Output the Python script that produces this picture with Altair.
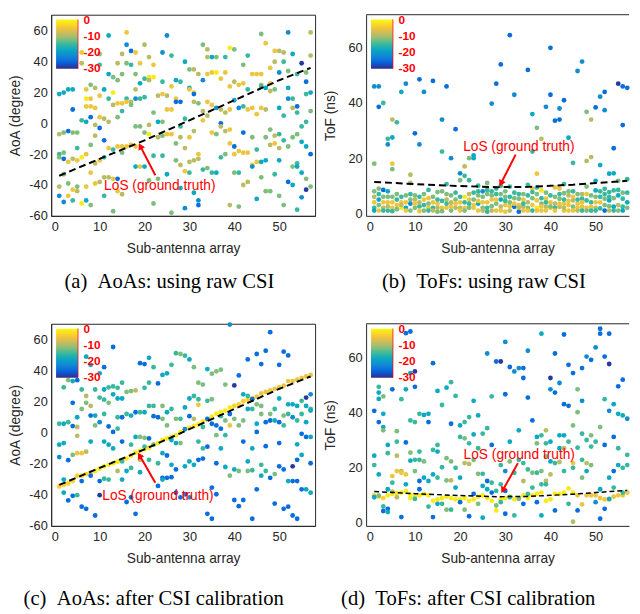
import altair as alt
import pandas as pd

# colour codes (received power, dB)
Y, YO, O, OL, G, T, C, CB, B, DB = -1, -3, -5, -9, -12, -15, -18.5, -22, -25.5, -29.5

PARULA = ['#352a87', '#0363e1', '#1485d4', '#06a7c6', '#38b99e',
          '#92bf73', '#d9ba56', '#fcce2e', '#f9fb0e']

x_ticks = [0, 10, 20, 30, 40, 50]
aoa_ticks = [-60, -40, -20, 0, 20, 40, 60]
tof_ticks = [0, 20, 40, 60]
cbar_ticks = [0, -10, -20, -30]
cbar_limits = [-30.5, 0.5]

# ---------------- (a) AoAs raw ----------------
aoa_raw = [
    (1,19,C),(1,-7,OL),(1,-20,T),(1,-22,G),(1,-41,OL),(1,-47,CB),
    (2,20,C),(2,-6,G),(2,-19,G),(2,-23,B),(2,-33,G),(2,-51,CB),
    (3,22,C),(3,-5,B),(3,-25,O),(3,-39,G),(3,-47,O),
    (4,22,C),(4,9,B),(4,-6,G),(4,-23,OL),(4,-43,O),(4,-50,T),
    (5,-6,G),(5,-16,T),(5,-24,O),(5,-41,G),(5,-44,OL),
    (6,46,O),(6,39,OL),(6,2,T),(6,-22,Y),(6,-52,Y),
    (7,22,O),(7,16,Y),(7,11,O),(7,1,C),(7,-20,O),(7,-41,O),(7,-50,C),
    (8,25,G),(8,16,O),(8,11,O),(8,4,B),(8,-14,G),(8,-32,O),(8,-53,G),
    (9,23,OL),(9,10,O),(9,-1,OL),(9,-8,OL),(9,-26,OL),(9,-39,O),
    (10,45,G),(10,38,T),(10,18,O),(10,4,O),(10,-3,B),(10,-24,O),(10,-38,OL),
    (11,22,C),(11,3,OL),(11,-11,B),(11,-22,T),(11,-35,OL),(11,-47,T),
    (12,57,C),(12,32,C),(12,16,T),(12,1,OL),(12,-16,O),(12,-35,OL),
    (13,30,G),(13,20,Y),(13,12,OL),(13,-17,T),(13,-36,O),(13,-57,G),
    (14,39,OL),(14,28,G),(14,13,O),(14,4,G),(14,-15,O),(14,-36,B),(14,-44,O),
    (15,45,OL),(15,32,G),(15,13,O),(15,8,T),(15,-15,O),(15,-19,G),(15,-46,OL),
    (16,59,O),(16,51,CB),(16,39,G),(16,16,T),(16,14,O),(16,-15,O),
    (17,47,B),(17,38,T),(17,14,OL),(17,12,G),(17,-14,O),
    (18,46,O),(18,32,G),(18,22,OL),(18,16,CB),(18,-2,G),(18,-15,O),(18,-28,C),
    (19,39,O),(19,26,C),(19,16,T),(19,-2,G),(19,-28,O),
    (20,51,OL),(20,29,T),(20,17,T),(20,-6,G),(20,-28,C),
    (21,43,OL),(21,30,Y),(21,28,OL),(21,-1,OL),(21,-7,Y),(21,-37,G),
    (22,38,O),(22,30,Y),(22,7,G),(22,-21,T),(22,-52,G),
    (23,18,OL),(23,1,C),(23,-9,OL),(23,-36,G),
    (24,46,CB),(24,27,T),(24,19,O),(24,1,G),(24,-8,G),(24,-21,T),
    (25,57,CB),(25,18,OL),(25,9,O),(25,-7,O),(25,-33,C),
    (26,44,T),(26,24,O),(26,9,O),(26,-7,O),(26,-58,G),
    (27,28,C),(27,16,O),(27,14,B),(27,-13,G),(27,-24,G),
    (28,27,T),(28,14,B),(28,-2,T),(28,-9,OL),(28,-27,OL),(28,-42,C),
    (29,40,C),(29,3,T),(29,-16,OL),(29,-31,O),(29,-55,CB),
    (30,35,G),(30,23,C),(30,22,O),(30,-9,O),(30,-25,OL),(30,-32,T),
    (31,35,OL),(31,20,O),(31,19,B),(31,14,OL),(31,-5,OL),(31,-24,OL),(31,-45,C),
    (32,32,OL),(32,13,G),(32,-20,O),(32,-23,OL),(32,-50,CB),(32,-53,B),
    (33,51,G),(33,28,CB),(33,8,OL),(33,2,O),(33,-30,T),
    (34,48,OL),(34,43,OL),(34,32,O),(34,14,O),(34,5,OL),(34,-29,G),
    (35,43,C),(35,33,O),(35,12,O),(35,-6,O),(35,-32,T),
    (36,43,G),(36,33,Y),(36,10,CB),(36,-7,G),(36,-32,C),
    (37,29,O),(37,9,OL),(37,0,B),(37,-2,OL),(37,-22,T),
    (38,43,T),(38,33,O),(38,7,OL),(38,-5,OL),(38,-20,G),
    (39,49,Y),(39,24,O),(39,9,O),(39,-4,O),(39,-13,O),(39,-53,OL),
    (40,48,G),(40,27,OL),(40,15,C),(40,-15,B),(40,-20,O),(40,-32,G),
    (41,25,O),(41,10,CB),(41,-18,O),(41,-32,T),(41,-54,G),
    (42,38,G),(42,26,O),(42,11,T),(42,-6,B),(42,-19,O),(42,-40,OL),
    (43,44,T),(43,22,T),(43,9,O),(43,-19,O),(43,-38,OL),
    (44,32,O),(44,10,O),(44,-9,G),(44,-27,O),(44,-28,CB),
    (45,32,O),(45,6,O),(45,-17,T),(45,-25,O),(45,-49,C),
    (46,58,G),(46,32,O),(46,25,OL),(46,24,T),(46,10,O),(46,-25,C),(46,-35,G),
    (47,52,O),(47,23,C),(47,9,OL),(47,-9,G),(47,-24,C),(47,-44,G),
    (48,36,O),(48,26,O),(48,21,OL),(48,-4,G),(48,-14,OL),(48,-44,G),
    (49,47,O),(49,40,OL),(49,22,G),(49,-8,OL),(49,-13,O),(49,-33,T),
    (50,47,OL),(50,33,CB),(50,10,C),(50,-7,T),(50,-16,OL),(50,-24,C),(50,-47,G),
    (51,46,OL),(51,40,T),(51,5,T),(51,-11,T),(51,-53,G),
    (52,59,CB),(52,34,G),(52,23,C),(52,16,CB),(52,-15,G),(52,-38,B),
    (53,45,C),(53,16,T),(53,10,OL),(53,-9,G),(53,-28,G),(53,-40,C),
    (54,32,T),(54,11,B),(54,7,T),(54,-7,G),(54,-26,T),(54,-28,C),(54,-56,T),
    (55,39,DB),(55,-2,T),(55,-12,C),(55,-32,C),(55,-48,CB),
    (56,33,G),(56,27,B),(56,19,T),(56,1,T),(56,-15,C),(56,-36,G),(56,-43,DB),
    (57,59,OL),(57,44,OL),(57,20,C),(57,8,G),(57,-20,B),(57,-41,G),
]

# ---------------- (b) ToFs raw ----------------
tof_raw = [
    (1,46,CB),(1,18,G),(1,8,G),(1,2,T),(1,1,C),
    (2,46,CB),(2,38.6,B),(2,9,G),(2,5,C),(2,1,O),
    (3,40,T),(3,8.5,B),(3,4,O),(3,2,OL),
    (4,27,T),(4,25,CB),(4,8,C),(4,4,O),(4,1,T),
    (5,34,OL),(5,27.5,C),(5,18,O),(5,16,G),(5,6,G),(5,2,O),
    (6,33,T),(6,5,T),(6,3,O),
    (7,44,C),(7,4,O),(7,2,Y),
    (8,47,CB),(8,4,O),(8,2,C),
    (9,14,OL),(9,11,OL),(9,5,G),(9,3.5,CB),
    (10,29,B),(10,5,OL),(10,2,G),
    (11,48.6,B),(11,25,CB),(11,6,T),(11,2.5,T),
    (12,44,CB),(12,5,O),(12,1,G),
    (13,8.5,T),(13,3.5,G),(13,2,O),
    (14,48,B),(14,4,O),(14,2,T),
    (15,7.7,G),(15,3.5,O),(15,0.6,G),
    (16,34,CB),(16,22.4,T),(16,8,G),(16,2,O),
    (17,46,B),(17,10.6,T),(17,5,OL),(17,2,O),
    (18,20,CB),(18,6.5,G),(18,2.5,O),
    (19,30.5,B),(19,5,G),(19,2,OL),
    (20,14.5,CB),(20,12,G),(20,4,O),(20,2,OL),
    (21,17,OL),(21,13.6,T),(21,6,Y),(21,2,O),
    (22,20,G),(22,12,T),(22,5,O),(22,2,G),
    (23,21,C),(23,20,C),(23,5,G),(23,2,O),
    (24,10,T),(24,6.5,G),(24,3.5,C),(24,1,O),
    (25,8,CB),(25,4,O),(25,2,G),
    (26,11,G),(26,7,G),(26,2,T),(26,0.6,T),
    (27,39.8,CB),(27,8,T),(27,5,O),(27,2.6,G),
    (28,47,B),(28,7,T),(28,3.5,G),(28,1,O),
    (29,54,B),(29,10,T),(29,5,C),(29,2.4,OL),
    (30,6,G),(30,3,O),(30,0.6,O),
    (31,64.6,B),(31,9.7,T),(31,6,T),(31,2.6,O),
    (32,43,CB),(32,5.5,G),(32,2.4,B),
    (33,5.3,G),(33,3,O),(33,0.6,B),
    (34,5,O),(34,2.4,OL),
    (35,52,B),(35,10.3,T),(35,4,OL),(35,2,G),
    (36,36,C),(36,22.4,T),(36,9,O),(36,7.7,T),(36,3,O),
    (37,31,G),(37,14.4,O),(37,9.4,T),(37,4.7,O),(37,2,Y),
    (38,27,OL),(38,8.3,Y),(38,3.5,G),(38,1,O),
    (39,38.6,CB),(39,5.3,O),(39,2.4,OL),
    (40,60,B),(40,43,B),(40,4,O),(40,2,O),
    (41,33.6,B),(41,9.4,O),(41,3.5,OL),(41,2,T),
    (42,38,CB),(42,34,B),(42,9,O),(42,5.3,G),(42,2.4,OL),
    (43,41,B),(43,10.6,T),(43,7.3,G),(43,3.5,O),(43,1,O),
    (44,27.4,C),(44,6.5,OL),(44,3,O),(44,1,O),
    (45,18.3,T),(45,6,O),(45,4.7,OL),(45,2.4,G),
    (46,51.6,CB),(46,7,G),(46,3.5,O),(46,2,O),
    (47,55,CB),(47,7,OL),(47,5.3,T),(47,2.4,O),
    (48,36.8,G),(48,19,OL),(48,9.7,G),(48,4.7,T),(48,2,O),
    (49,34,OL),(49,20.4,OL),(49,4,T),(49,2.4,O),
    (50,38.4,B),(50,11.8,C),(50,8.3,C),(50,4,O),(50,2,OL),
    (51,42.3,CB),(51,17.5,C),(51,6,T),(51,1.8,T),
    (52,44,B),(52,37.4,CB),(52,8.9,T),(52,5.3,G),(52,1,B),
    (53,14.4,C),(53,7.7,T),(53,4.7,C),(53,2.6,G),
    (54,23.6,B),(54,14.5,C),(54,8.3,T),(54,2.4,C),
    (55,47,DB),(55,11.8,G),(55,6.5,C),(55,3,OL),
    (56,46,B),(56,32,B),(56,5.3,T),(56,2.4,T),
    (57,45.5,B),(57,12.4,T),(57,4,C),
]
tof_raw_band = [
    (1,4,O),(1,6,OL),(2,3,G),(2,7,T),(3,6,G),(3,1,T),(4,6,G),(4,2.5,OL),
    (5,4,O),(5,0.8,T),(6,7,G),(6,1.5,G),(7,6,T),(7,3,OL),(8,6.5,G),(8,1,O),
    (9,1,G),(9,7,T),(10,3.5,O),(10,6.5,G),(11,4,OL),(11,0.8,O),(12,3,T),(12,7,G),
    (13,5.5,O),(13,1,T),(14,6,G),(14,1,OL),(15,5,T),(15,2,OL),(16,4.5,T),(16,0.8,G),
    (17,7,G),(17,3.5,T),(18,4,OL),(18,1,G),(19,3.5,O),(19,7.5,T),(20,6,T),(20,1,O),
    (21,4,T),(21,1,G),(22,7,OL),(22,3.5,T),(23,7.5,T),(23,3,O),(24,4.5,O),(24,8,T),
    (25,6,G),(25,1,OL),(26,4,O),(26,8.5,T),(27,6.5,G),(27,1,OL),(28,5,O),(28,9,T),
    (29,7,G),(29,1,O),(30,4.5,T),(30,8,G),(31,4,G),(31,1,OL),(32,7.5,T),(32,3.5,O),
    (33,7,T),(33,2,OL),(34,7,G),(34,3.5,T),(34,1,O),(35,6.5,T),(35,1,O),(36,5.5,G),
    (36,1,T),(37,7,G),(37,1,O),(38,5.5,T),(38,2.5,O),(39,7.5,G),(39,4,T),(39,1,O),
    (40,6.5,T),(40,2.5,G),(41,6,G),(41,1,O),(42,7,T),(42,3.5,O),(43,5,T),(43,2,OL),
    (44,8,G),(44,4.5,O),(45,8,T),(45,1,O),(46,5,T),(46,1,OL),(47,4,O),(47,1,T),
    (48,7,O),(48,1,G),(49,6.5,G),(49,1,T),(50,6,G),(50,1,T),(51,4,O),(51,8,T),
    (52,7,T),(52,3,G),(53,6,T),(53,1,OL),(54,5.5,G),(54,1,T),(55,8.5,T),(55,1,G),
    (56,7.5,G),(56,1,C),(57,7.5,T),(57,2,G),
]

# ---------------- (c) AoAs calibrated ----------------
los_idx = list(range(1, 58))
aoa_cal_los_y = [-35,-34,-33,-31.5,-28,-28,-27,-26,-25,-23.5,-22,-21,-20,-19,-18,-17,-15,-13,
                 -12,-11,-10,-8,-7,-5,-4,-3,-2,0,2,3,4,5,7,8,10,12,13,14,16,17,18,20,21,22,
                 23,25,26,27,28,29,30,33,33,34,35,36,37]
aoa_cal_los_c = [YO]*8 + [Y]*31 + [YO]*5 + [O]*13
aoa_cal = [
    (1,5.5,T),(1,-8,C),(1,-16,CB),
    (2,29,T),(2,5.5,C),(2,-7,C),(2,-30.5,C),(2,-39,C),
    (3,33.6,G),(3,6.5,T),(3,-18,B),(3,-44,B),
    (4,33,C),(4,19,B),(4,4,B),(4,-14.6,G),(4,-41,B),
    (5,33.6,B),(5,9.7,C),(5,3.4,OL),(5,-2.3,OL),(5,-13.5,O),(5,-40.6,T),
    (6,27.6,T),(6,15,G),(6,-13.5,O),(6,-31.5,B),(6,-48,B),
    (7,48.8,C),(7,23.4,OL),(7,19,G),(7,-12.5,OL),(7,-49.4,B),
    (8,43.5,C),(8,17,OL),(8,10.8,B),(8,-6,C),(8,-28,B),
    (9,27.6,T),(9,10.8,C),(9,4.4,G),(9,-53.7,B),
    (10,38,C),(10,22.4,T),(10,6.5,CB),(10,-31.5,B),(10,-40.6,DB),
    (11,42,B),(11,27.6,C),(11,21,T),(11,11.8,T),(11,-6,C),(11,-30,T),
    (12,29,T),(12,19,G),(12,3.8,B),(12,-8,C),(12,-30.5,T),
    (13,55,B),(13,29.6,T),(13,24.5,C),(13,0.2,B),(13,-10.4,C),
    (14,28.7,T),(14,21.8,C),(14,9.7,T),(14,2.3,T),(14,-25,OL),
    (15,32,T),(15,21.8,C),(15,9.7,B),(15,-6,B),(15,-18.8,T),(15,-30.5,C),
    (16,26,G),(16,11.8,T),(16,-25,C),(16,-45,B),
    (17,26.6,G),(17,10.8,C),(17,-8,T),(17,-23,T),(17,-42,B),
    (18,27,OL),(18,12.9,B),(18,-3,C),(18,-52.6,B),
    (19,44.6,B),(19,12.9,T),(19,-3,G),(19,-17.8,OL),(19,-25.8,C),
    (20,44,B),(20,28.7,T),(20,12.9,C),(20,-3.6,G),(20,-9.3,T),
    (21,48,C),(21,32,T),(21,17,T),(21,-4,B),(21,-17.8,T),
    (22,42,T),(22,17,T),(22,10.4,B),(22,-8,G),
    (23,31.5,B),(23,9.7,B),(23,-20,T),(23,-34.6,B),
    (24,37,C),(24,17,G),(24,8.7,G),(24,-13.5,C),(24,-29.4,B),(24,-30.5,C),
    (25,38,C),(25,12.9,C),(25,4.4,G),(25,-15,B),(25,-29.4,B),
    (26,43.5,T),(26,15,T),(26,-5,C),(26,-21,C),(26,-29,B),
    (27,51,T),(27,8.7,G),(27,-7,C),(27,-24,B),(27,-39,B),
    (28,50.5,G),(28,8.7,T),(28,-7,G),(28,-42,B),
    (29,49.4,T),(29,16,C),(29,2,CB),(29,-22,C),(29,-40,B),
    (30,47,C),(30,21.8,C),(30,10.4,B),(30,-18.8,C),(30,-42,CB),
    (31,42,G),(31,23.4,T),(31,8.7,OL),(31,-21,C),
    (32,32,G),(32,21.3,T),(32,17.7,O),(32,-6,T),(32,-17.8,B),
    (33,30.8,G),(33,3.4,T),(33,-10.4,T),(33,-17,B),
    (34,40.8,C),(34,20.3,T),(34,8.7,B),(34,-9.3,B),(34,-52.6,B),
    (35,37.8,G),(35,21.3,G),(35,5.5,B),(35,-35.7,B),(35,-55.8,B),
    (36,39.3,G),(36,4.4,B),(36,-1.9,G),(36,-20,B),(36,-40,B),
    (37,40.4,G),(37,10.4,T),(37,2.3,B),(37,-10.4,C),
    (38,30.8,G),(38,7.6,G),(38,-1.9,T),(38,-22.4,C),
    (39,69.5,CB),(39,11.8,B),(39,4.4,O),(39,-28,G),
    (40,30.2,DB),(40,8.7,G),(40,-24,C),(40,-43.7,B),
    (41,36.7,B),(41,4.4,G),(41,-25,G),(41,-47.7,B),
    (42,24.5,C),(42,7.6,G),(42,-6,B),(42,-43.7,B),
    (43,47,B),(43,23.4,T),(43,15,C),(43,-18.8,C),(43,-25,G),
    (44,21.3,B),(44,15,T),(44,-10.4,C),(44,-24.5,T),(44,-55.8,B),
    (45,50.5,B),(45,18,G),(45,5.5,C),(45,0.2,B),(45,-36.8,B),
    (46,44,B),(46,17,G),(46,11.8,G),(46,-21,T),(46,-28,C),
    (47,52.6,B),(47,6.5,B),(47,-9,B),(47,-25,T),
    (48,64.6,B),(48,11.8,G),(48,7.6,B),(48,-29.4,B),
    (49,15,T),(49,7.6,C),(49,-27,G),(49,-46,B),
    (50,43.5,B),(50,21.8,C),(50,6.5,B),(50,-7,B),(50,-22,B),
    (51,52,B),(51,10.8,G),(51,4.4,T),(51,-24,B),(51,-49.4,B),
    (52,49.6,B),(52,18,C),(52,11.8,T),(52,-31.5,C),(52,-48,B),
    (53,18,C),(53,9.7,CB),(53,-22,DB),(53,-31.5,B),(53,-53.7,B),
    (54,17,C),(54,7.6,T),(54,-7.8,C),(54,-17.8,B),(54,-31.5,B),(54,-55.8,B),
    (55,20.3,T),(55,11.8,T),(55,-1,B),(55,-14.6,C),(55,-36.8,B),
    (56,22.4,DB),(56,17,C),(56,6.5,C),(56,-3,B),(56,-36.8,C),
    (57,24.5,CB),(57,15,T),(57,14,C),(57,-3,C),(57,-20,B),(57,-39,C),
]

# ---------------- (d) ToFs calibrated ----------------
tof_cal_los_y = [10,9.5,9,10,10.5,10.8,11,11.5,9,9.5,10,10.5,10,8,8.5,9,9.5,9,8.5,8.5,9,8,
                 8.5,9.5,10,9,8,4.5,8.5,9,9.5,8.5,9,10,9,10,10.5,11,8,8.5,10.5,10.5,11,12.5,
                 11,10,6.7,10,10,10,9,8.5,8.5,9.5,10,10,11]
tof_cal_los_c = [YO]*3 + [Y]*42 + [O]*12
tof_cal = [
    (1,40.7,B),(1,24.4,C),(1,21,T),(1,9.3,C),
    (2,49.4,T),(2,47.3,C),(2,45,C),(2,36.6,B),(2,17.6,C),(2,9.9,G),
    (3,45.9,G),(3,39.6,C),(3,34.8,C),(3,33.6,G),(3,6,T),(3,4.3,B),
    (4,28.3,C),(4,25.3,T),(4,12.2,C),(4,5.1,B),(4,3.9,C),
    (5,48.5,B),(5,17,O),(5,14.6,T),(5,11.3,OL),
    (6,33.3,G),(6,29.5,T),(6,24.4,OL),(6,18.8,O),(6,9.3,OL),
    (7,44.9,T),(7,18.8,OL),(7,18.2,O),(7,2.1,B),
    (8,68.9,B),(8,48.5,C),(8,29.2,B),(8,17.6,O),(8,14,C),
    (9,69.5,B),(9,54.4,C),(9,37.2,T),(9,25.5,G),(9,22.6,C),(9,10.2,Y),
    (10,55,DB),(10,49.4,B),(10,36.6,T),(10,22.9,T),(10,18.8,G),(10,8.7,T),
    (11,39.6,T),(11,25.9,T),(11,22.9,T),(11,15.2,B),(11,12.2,B),
    (12,39.2,C),(12,22.3,G),(12,16.4,C),
    (13,39.6,C),(13,36.6,B),(13,15.2,C),(13,5.9,T),
    (14,58,B),(14,26.5,T),(14,17.6,C),(14,2.1,B),
    (15,47.9,C),(15,28.3,T),(15,25.9,C),(15,16.4,T),(15,6.9,C),
    (16,42.8,T),(16,20.2,T),(16,6.9,T),
    (17,49.1,C),(17,23.5,G),(17,15.4,G),(17,4.8,G),
    (18,51.1,T),(18,36,B),(18,22.3,G),(18,15.4,OL),(18,4.8,T),
    (19,46.1,T),(19,20,T),(19,12.8,C),
    (20,35.4,C),(20,31.2,T),(20,16.4,C),(20,7.5,B),
    (21,36.6,T),(21,30.7,G),(21,21.7,OL),(21,4.8,G),
    (22,38.4,T),(22,28.9,T),(22,21.4,OL),(22,2.4,B),
    (23,44.3,C),(23,32.1,C),(23,22.9,G),(23,10.5,B),
    (24,39,C),(24,27.1,T),(24,17.8,G),(24,6.9,G),
    (25,32.4,T),(25,17.8,T),(25,13.4,C),(25,1.9,C),
    (26,61.5,CB),(26,34.4,T),(26,15.2,B),(26,12.2,C),
    (27,45.9,T),(27,28.3,B),(27,14.6,T),(27,11,B),
    (28,58.6,B),(28,11.6,T),(28,6.3,G),
    (29,58.6,DB),(29,21,T),(29,14,T),(29,7.5,T),
    (30,65.7,CB),(30,46.7,B),(30,18.8,CB),(30,11.6,B),(30,3.3,B),
    (31,56.6,B),(31,29.5,C),(31,22.3,G),(31,9.3,T),
    (32,55,CB),(32,18.2,T),(32,2.7,T),
    (33,56.2,CB),(33,33.6,C),(33,22.9,T),(33,8.7,G),
    (34,56.2,B),(34,52.6,B),(34,21.7,T),(34,15.2,OL),(34,6.9,B),
    (35,62.5,CB),(35,45.5,B),(35,19.4,T),(35,10.5,T),
    (36,37.2,B),(36,18.2,G),(36,12.8,T),
    (37,31.2,C),(37,28.9,G),(37,18.2,T),(37,7.5,B),
    (38,68.7,C),(38,31.8,T),(38,18.8,G),(38,14,T),(38,2.7,C),
    (39,33.6,OL),(39,28.9,T),(39,24.1,G),(39,15.2,OL),(39,14,T),
    (40,52.6,DB),(40,48.5,CB),(40,29.5,C),(40,22.3,C),(40,17.6,OL),
    (41,61.5,B),(41,47.3,B),(41,21.7,T),(41,4.5,B),
    (42,50.8,CB),(42,31.8,C),(42,27.1,C),(42,22.1,OL),
    (43,68.4,B),(43,43.1,B),(43,31.8,C),(43,27.1,OL),(43,18.8,T),
    (44,57.4,B),(44,42.5,B),(44,29.5,T),(44,6.9,T),
    (45,54.4,B),(45,35.4,G),(45,21.7,O),(45,20,T),(45,0.4,OL),
    (46,48.5,G),(46,40.2,G),(46,27.3,T),(46,4.5,B),
    (47,56.2,B),(47,44.3,CB),(47,32.4,T),(47,22.9,T),(47,16.4,G),
    (48,60.4,CB),(48,30.1,T),(48,21.7,OL),(48,18.8,C),
    (49,59.2,B),(49,31.8,G),(49,27.7,T),(49,21,G),
    (50,63.7,CB),(50,29.5,T),(50,7.5,CB),
    (51,70.5,B),(51,68.7,B),(51,34.8,G),(51,12.2,C),(51,1.5,B),
    (52,60.4,B),(52,44.9,T),(52,28.3,B),(52,5.1,B),
    (53,68.7,B),(53,57.7,DB),(53,40.7,CB),(53,16.4,C),(53,8.7,C),
    (54,43.1,C),(54,31.2,B),(54,18.8,B),(54,12.8,T),
    (55,49.6,B),(55,39.6,C),(55,27.1,T),(55,21,C),
    (56,52,B),(56,39,C),(56,20,T),(56,11,T),
    (57,37.8,CB),(57,24.7,T),(57,21,T),
]

aoa_line_x = [1, 10, 20, 30, 40, 50, 57]
aoa_line_y = [-34, -23, -11, 2, 15, 28, 36]
tof_line_x = [1, 10, 20, 28, 35, 40, 45, 50, 57]
tof_line_y = [11.4, 10.6, 9.9, 9.5, 9.6, 10.0, 10.4, 11.0, 11.8]

# annotation: text position, arrow tail, arrow head, arrow head angle
ann_a = dict(tx=23.4, ty=-41, x1=22.4, y1=-33.7, x2=18.6, y2=-12.2, ang=332.6)
ann_b = dict(tx=33.0, ty=24.2, x1=32.3, y1=21.3, x2=28.6, y2=9.4, ang=207.2)
ann_c = dict(tx=23.0, ty=-41, x1=22.4, y1=-32.5, x2=18.4, y2=-12.5, ang=330.0)
ann_d = dict(tx=33.1, ty=24.7, x1=32.8, y1=21.7, x2=29.0, y2=10.5, ang=209.1)

FRAME = "#262626"
ASCII_LABEL = "'' + datum.value"
CB_LEN = 50


def panel(points, lx, ly, ann, xdom, ydom, yticks, ytitle, w, h, caption, dx, cap_off,
          framed, dash, dash_w):
    df = pd.DataFrame(points, columns=["x", "y", "c"])
    ldf = pd.DataFrame({"x": lx, "y": ly})
    k = 0.12
    hx = ann["x2"] - k * (ann["x2"] - ann["x1"])
    hy = ann["y2"] - k * (ann["y2"] - ann["y1"])
    adf = pd.DataFrame({"x": [ann["x1"]], "y": [ann["y1"]], "x2": [hx], "y2": [hy]})
    hdf = pd.DataFrame({"x": [hx], "y": [hy]})
    tdf = pd.DataFrame({"x": [ann["tx"]], "y": [ann["ty"]], "label": ["LoS (ground truth)"]})

    xs = alt.Scale(domain=xdom, nice=False, zero=False)
    ys = alt.Scale(domain=ydom, nice=False, zero=False)
    xa = alt.Axis(values=x_ticks, title="Sub-antenna array", labelExpr=ASCII_LABEL)
    ya = alt.Axis(values=yticks, title=ytitle, labelExpr=ASCII_LABEL)
    X = alt.X("x:Q", scale=xs, axis=xa)
    Yc = alt.Y("y:Q", scale=ys, axis=ya)

    pts = alt.Chart(df).mark_circle(size=24, opacity=1).encode(
        x=X, y=Yc,
        color=alt.Color("c:Q",
                        scale=alt.Scale(domain=cbar_limits, range=PARULA, clamp=True,
                                        interpolate="rgb"),
                        legend=alt.Legend(orient="top-left", direction="vertical",
                                          title=None, values=cbar_ticks,
                                          gradientLength=CB_LEN, gradientThickness=22,
                                          gradientStrokeWidth=0,
                                          labelColor="#ff0000", labelFontWeight="bold",
                                          labelFontSize=12, labelFont="Liberation Sans",
                                          labelOffset=6, labelOverlap=False,
                                          labelExpr=ASCII_LABEL,
                                          offset=5, padding=0)))
    line = alt.Chart(ldf).mark_line(color="black", strokeDash=dash,
                                    strokeWidth=dash_w).encode(x=X, y=Yc)
    arrow = alt.Chart(adf).mark_rule(color="#ff0000", strokeWidth=2).encode(
        x=X, y=Yc, x2="x2:Q", y2="y2:Q")
    head = alt.Chart(hdf).mark_point(shape="triangle-up", filled=True, color="#ff0000",
                                     opacity=1, size=55, angle=ann["ang"]).encode(x=X, y=Yc)
    text = alt.Chart(tdf).mark_text(color="#ff0000", font="Liberation Sans", fontSize=14,
                                    align="center", baseline="middle").encode(
        x=X, y=Yc, text="label:N")
    cbar_line = alt.Chart(pd.DataFrame({"d": [0]})).mark_rule(
        color="#ff0000", strokeWidth=1.5).encode(
        x=alt.value(27), y=alt.value(5), y2=alt.value(5 + CB_LEN))
    layers = [pts, line, arrow, head, text, cbar_line]
    if not framed:
        top = alt.Chart(pd.DataFrame({"d": [0]})).mark_rule(
            color=FRAME, strokeWidth=1).encode(
            x=alt.value(0), x2=alt.value(w), y=alt.value(0))
        layers.append(top)
    ch = alt.layer(*layers).properties(
        width=w, height=h,
        title=alt.TitleParams(caption, orient="bottom", anchor="middle", frame="group",
                              font="Liberation Serif", fontSize=21, fontWeight="normal",
                              color="black", offset=cap_off, dx=dx, baseline="top"))
    if not framed:
        ch = ch.properties(view=alt.ViewBackground(strokeWidth=0))
    return ch


W_L, W_R = 269, 268
H_T, H_B = 205, 206
SP = "\u2002"

pa = panel(aoa_raw, aoa_line_x, aoa_line_y, ann_a, [-0.8, 58.0], [-60, 70.5], aoa_ticks,
           "AoA (degree)", W_L, H_T, "(a)" + SP + "AoAs: using raw CSI", -14, 17, True,
           [7, 4], 2)
pb = panel(tof_raw + tof_raw_band, tof_line_x, tof_line_y, ann_b, [-0.8, 57.4], [-0.9, 72],
           tof_ticks, "ToF (ns)", W_R, H_T, "(b)" + SP + "ToFs: using raw CSI", -14, 17, False,
           [7, 4], 2)
cal_c = [(x, y, c) for x, y, c in zip(los_idx, aoa_cal_los_y, aoa_cal_los_c)] + aoa_cal
pc = panel(cal_c, aoa_line_x, aoa_line_y, ann_c, [-0.8, 58.0], [-60.4, 70], aoa_ticks,
           "AoA (degree)", W_L, H_B, "(c)" + SP + "AoAs: after CSI calibration", -30, 24, True,
           [7, 4], 2)
cal_d = [(x, y, c) for x, y, c in zip(los_idx, tof_cal_los_y, tof_cal_los_c)] + tof_cal
pd_ = panel(cal_d, tof_line_x, tof_line_y, ann_d, [-0.8, 57.4], [-1.1, 72.3], tof_ticks,
            "ToF (ns)", W_R, H_B, "(d)" + SP + "ToFs: after CSI calibration", -30, 24, False,
            [5, 3], 1.5)

chart = alt.concat(pa, pb, pc, pd_, columns=2, spacing={"row": 110, "column": 52},
                   bounds="flush").resolve_scale(
    color="independent", x="independent", y="independent").resolve_legend(
    color="independent").properties(padding=0, background="white").configure_view(
    stroke=FRAME, strokeWidth=1).configure_axis(
    domainColor=FRAME, domainWidth=1, ticks=False, tickSize=0, grid=False,
    labelFont="Liberation Sans", labelFontSize=13, labelColor=FRAME,
    titleFont="Liberation Sans", titleFontSize=14, titleFontWeight="normal",
    titleColor=FRAME).configure_axisX(labelPadding=5, titlePadding=8).configure_axisY(
    labelPadding=4, titlePadding=1, minExtent=28)

chart.save("out.html", embed_options={"renderer": "svg", "actions": False})
